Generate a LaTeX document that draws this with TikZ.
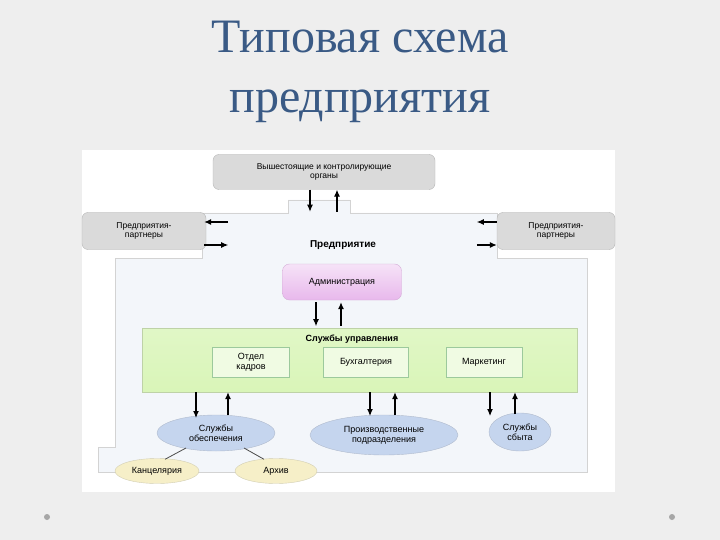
\documentclass[tikz,border=0pt]{standalone}
\usepackage{fontspec}
\setmainfont{Liberation Serif}
\newfontfamily\sans{Liberation Sans}
\usetikzlibrary{shapes.geometric,calc,arrows.meta}
\definecolor{titleblue}{HTML}{3A5A85}
\definecolor{bgray}{HTML}{EEEEEE}
\definecolor{entfill}{HTML}{F3F6FA}
\definecolor{gboxfill}{HTML}{DADADA}
\definecolor{gborder}{HTML}{B5B5B5}
\definecolor{greenfill}{HTML}{D9F5B8}
\definecolor{ellfill}{HTML}{C5D5EE}
\definecolor{yelfill}{HTML}{F6EFC8}
\definecolor{pinkfill}{HTML}{E8B8EC}
\tikzset{
  graybox/.style={draw=gborder,fill=gboxfill,rounded corners=6pt,align=center,font=\sans\fontsize{8.5}{9.5}\selectfont},
  ellbox/.style={ellipse,draw=ellfill!70!gray,fill=ellfill,inner sep=0pt,align=center,font=\sans\fontsize{9}{10}\selectfont},
  yelbox/.style={ellipse,draw=yelfill!70!gray,fill=yelfill,inner sep=0pt,align=center,font=\sans\fontsize{9}{10}\selectfont},
  subbox/.style={draw=green!30!gray!60,fill=greenfill!40!white,inner sep=0pt,align=center,font=\sans\fontsize{9}{10}\selectfont},
  arr/.style={-{Latex[length=7pt,width=6pt]},line width=1.1pt,black},
  conn/.style={thick,black!70}
}
\begin{document}
\begin{tikzpicture}[x=1pt,y=-1pt]
\useasboundingbox (0,0) rectangle (720,540);
\fill[bgray] (0,0) rectangle (720,540);
\fill[white] (82,150) rectangle (615,492);
% title
\node[text=titleblue,font=\fontsize{48}{60}\selectfont,align=center] (title) at (360,72) {Типовая схема\\предприятия};
% enterprise outline
\draw[gborder!60,fill=entfill] (288,200) -- (350,200) -- (350,213) -- (497,213) -- (497,258) -- (587,258) -- (587,472) -- (98,472) -- (98,447) -- (115,447) -- (115,258) -- (202,258) -- (202,213) -- (288,213) -- cycle;
\node[font=\sans\bfseries\fontsize{10}{12}\selectfont] (ent) at (343,245) {Предприятие};
% nodes
\node[graybox,minimum width=222pt,minimum height=35pt] (top) at (324,172) {Вышестоящие и контролирующие\\органы};
\node[graybox,minimum width=124pt,minimum height=37pt] (lp) at (144,231) {Предприятия-\\партнеры};
\node[graybox,minimum width=118pt,minimum height=37pt] (rp) at (556,231) {Предприятия-\\партнеры};
\node[draw=pinkfill!80!gray,top color=pinkfill!40!white,bottom color=pinkfill,rounded corners=7pt,minimum width=119pt,minimum height=36pt,font=\sans\fontsize{9}{10}\selectfont] (adm) at (342,282) {Администрация};
\node[draw=greenfill!70!gray,top color=greenfill!80!white,bottom color=greenfill,minimum width=435pt,minimum height=64pt] (su) at (360,360) {};
\node[font=\sans\bfseries\fontsize{9}{10}\selectfont] (sut) at (352,339) {Службы управления};
\node[subbox,minimum width=77pt,minimum height=30pt] (ok) at (251,362) {Отдел\\кадров};
\node[subbox,minimum width=85pt,minimum height=30pt] (bu) at (366,362) {Бухгалтерия};
\node[subbox,minimum width=76pt,minimum height=30pt] (ma) at (484,362) {Маркетинг};
\node[ellbox,minimum width=118pt,minimum height=36pt] (so) at (216,433) {Службы\\обеспечения};
\node[ellbox,minimum width=148pt,minimum height=40pt] (pp) at (384,435) {Производственные\\подразделения};
\node[ellbox,minimum width=62pt,minimum height=38pt] (ss) at (520,432) {Службы\\сбыта};
\node[yelbox,minimum width=84pt,minimum height=25pt] (ka) at (157,471) {Канцелярия};
\node[yelbox,minimum width=82pt,minimum height=25pt] (ar) at (276,471) {Архив};
% arrows
\draw[arr] ($(top.south)+(-14,0)$) -- ++(0,22);
\draw[arr] ($(top.south)+(13,22)$) -- ($(top.south)+(13,0)$);
\draw[arr] ($(lp.east)+(22,-9)$) -- ($(lp.east)+(-2,-9)$);
\draw[arr] ($(lp.east)+(-2,14)$) -- ($(lp.east)+(22,14)$);
\draw[arr] ($(rp.west)+(0,-9)$) -- ($(rp.west)+(-20,-9)$);
\draw[arr] ($(rp.west)+(-20,14)$) -- ($(rp.west)+(0,14)$);
\draw[arr] ($(adm.south)+(-26,2)$) -- ($(adm.south)+(-26,26)$);
\draw[arr] ($(adm.south)+(-1,26)$) -- ($(adm.south)+(-1,2)$);
\draw[arr] (su.south -| 196,0) -- (196,418);
\draw[arr] (228,415) -- (su.south -| 228,0);
\draw[arr] (su.south -| 370,0) -- (370,416);
\draw[arr] (395,415) -- (su.south -| 395,0);
\draw[arr] (su.south -| 490,0) -- (490,416);
\draw[arr] (515,414) -- (su.south -| 515,0);
% lines
\draw[conn] ($(so.center)+(-30,15)$) -- ($(ka.north)+(8,1)$);
\draw[conn] ($(so.center)+(28,15)$) -- ($(ar.north)+(-12,1)$);
% dots
\fill[gray!70] (47,517) circle (3);
\fill[gray!70] (672,517) circle (3);
\end{tikzpicture}
\end{document}
